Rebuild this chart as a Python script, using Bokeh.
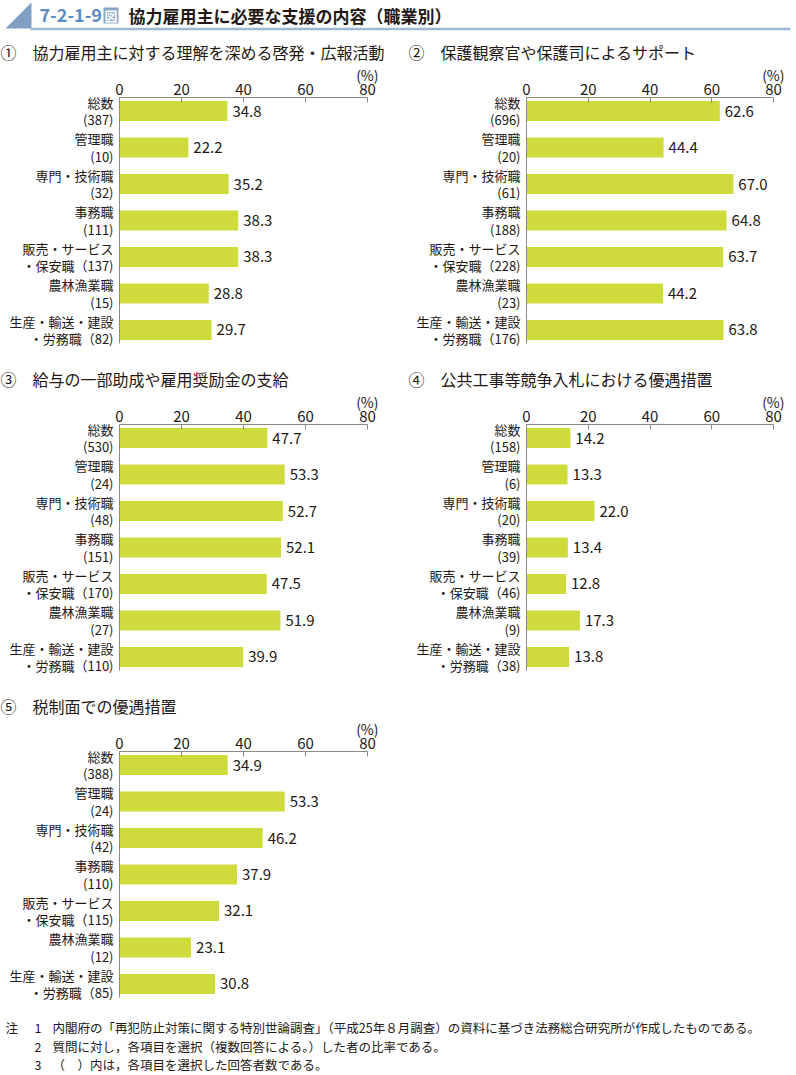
from bokeh.plotting import figure
from bokeh.layouts import column, row
from bokeh.models import FactorRange, Range1d, FixedTicker, ColumnDataSource, Title
from bokeh.embed import file_html
from bokeh.resources import INLINE
from bokeh.core.properties import value

FONT = "Noto Sans CJK JP"
TXT = "#231815"
BAR = "#cedb3a"
AXC = "#8a8a8a"

# ---------------- data ----------------
fig_no = "7-2-1-9"
fig_title = "協力雇用主に必要な支援の内容（職業別）"

occ_line1 = ["総数", "管理職", "専門・技術職", "事務職", "販売・サービス", "農林漁業職", "生産・輸送・建設"]
occ_line2 = ["", "", "", "", "・保安職", "", "・労務職"]

panel_titles = [
    "①　協力雇用主に対する理解を深める啓発・広報活動",
    "②　保護観察官や保護司によるサポート",
    "③　給与の一部助成や雇用奨励金の支給",
    "④　公共工事等競争入札における優遇措置",
    "⑤　税制面での優遇措置",
]

counts_1 = [387, 10, 32, 111, 137, 15, 82]
values_1 = [34.8, 22.2, 35.2, 38.3, 38.3, 28.8, 29.7]
counts_2 = [696, 20, 61, 188, 228, 23, 176]
values_2 = [62.6, 44.4, 67.0, 64.8, 63.7, 44.2, 63.8]
counts_3 = [530, 24, 48, 151, 170, 27, 110]
values_3 = [47.7, 53.3, 52.7, 52.1, 47.5, 51.9, 39.9]
counts_4 = [158, 6, 20, 39, 46, 9, 38]
values_4 = [14.2, 13.3, 22.0, 13.4, 12.8, 17.3, 13.8]
counts_5 = [388, 24, 42, 110, 115, 12, 85]
values_5 = [34.9, 53.3, 46.2, 37.9, 32.1, 23.1, 30.8]

x_ticks = [0, 20, 40, 60, 80]
unit_label = "(%)"

notes = [
    ("注", "1", "内閣府の「再犯防止対策に関する特別世論調査」（平成25年８月調査）の資料に基づき法務総合研究所が作成したものである。"),
    ("", "2", "質問に対し，各項目を選択（複数回答による。）した者の比率である。"),
    ("", "3", "（　）内は，各項目を選択した回答者数である。"),
]


def make_labels(counts):
    out = []
    for l1, l2, n in zip(occ_line1, occ_line2, counts):
        if l2:
            out.append(f"{l1}\n{l2}（{n})")
        else:
            out.append(f"{l1}\n({n})")
    return out


def panel(title, counts, vals, left_side, height, top, bottom):
    labels = make_labels(counts)
    w = 400 if left_side else 396
    bl = 119 if left_side else 126
    br = 33 if left_side else 23
    yr = FactorRange(factors=labels[::-1], range_padding=-0.13, range_padding_units="absolute")
    p = figure(width=w, height=height, y_range=yr, x_range=Range1d(0, 80),
               x_axis_location="above", output_backend="svg", toolbar_location=None,
               min_border_left=bl, min_border_right=br, min_border_top=top,
               min_border_bottom=bottom)
    src = ColumnDataSource(dict(y=labels, v=vals, t=[f"{v:.1f}" for v in vals]))
    p.hbar(y="y", right="v", left=0, height=0.55, source=src,
           fill_color=BAR, line_color=None)
    p.text(x="v", y="y", text="t", source=src, x_offset=5,
           text_align="left", text_baseline="middle",
           text_font=value(FONT), text_font_size="15px", text_color=TXT)

    xa = p.xaxis[0]
    xa.ticker = FixedTicker(ticks=x_ticks)
    xa.major_tick_in = 5
    xa.major_tick_out = 0
    xa.minor_tick_line_color = None
    xa.axis_line_color = AXC
    xa.major_tick_line_color = AXC
    xa.major_label_text_font = FONT
    xa.major_label_text_font_size = "15px"
    xa.major_label_text_color = TXT
    xa.major_label_standoff = 3

    ya = p.yaxis[0]
    ya.major_tick_in = 0
    ya.major_tick_out = 0
    ya.minor_tick_line_color = None
    ya.axis_line_color = AXC
    ya.major_label_text_font = FONT
    ya.major_label_text_font_size = "13px"
    ya.major_label_text_color = TXT
    ya.major_label_text_line_height = 0.92
    ya.major_label_standoff = 6

    p.xgrid.visible = False
    p.ygrid.visible = False
    p.outline_line_color = None

    # unit label, right-aligned over the 80 tick (stacked just above the axis)
    p.add_layout(Title(text=unit_label, align="right", offset=-11, standoff=-8,
                       text_font=FONT, text_font_size="14px", text_font_style="normal",
                       text_color=TXT), "above")

    p.title.text = title
    p.title.text_font = FONT
    p.title.text_font_size = "16px"
    p.title.text_font_style = "normal"
    p.title.text_color = TXT
    p.title.align = "left"
    p.title.offset = -bl if left_side else -(bl - 8)
    p.title.standoff = 6
    return p


# ---------------- header ----------------
hdr = figure(width=796, height=33, x_range=Range1d(0, 796), y_range=Range1d(33, 0),
             output_backend="svg", toolbar_location=None, min_border=0,
             x_axis_location=None, y_axis_location=None)
hdr.grid.visible = False
hdr.outline_line_color = None
hdr.patch([5, 31, 31], [28, 28, 2], fill_color="#7f9fc4", line_color=None)
hdr.segment(x0=[30], y0=[28.5], x1=[790], y1=[28.5], line_color="#9db8d0", line_width=2.5)
hdr.text(x=[39], y=[14.5], text=[fig_no], text_align="left", text_baseline="middle",
         text_font=value(FONT), text_font_size="18px", text_font_style="bold", text_color="#5b8cc3")
hdr.rect(x=[110.5], y=[15], width=15, height=16, fill_color="#86a6c8", line_color=None)
hdr.text(x=[110.5], y=[15], text=["図"], text_align="center", text_baseline="middle",
         text_font=value(FONT), text_font_size="13px", text_font_style="bold", text_color="white")
hdr.text(x=[128], y=[14.5], text=[fig_title], text_align="left", text_baseline="middle",
         text_font=value(FONT), text_font_size="17px", text_font_style="bold", text_color=TXT)

# ---------------- panels ----------------
p1 = panel(panel_titles[0], counts_1, values_1, True, 327, 64, 17)
p2 = panel(panel_titles[1], counts_2, values_2, False, 327, 64, 17)
p3 = panel(panel_titles[2], counts_3, values_3, True, 327, 64, 17)
p4 = panel(panel_titles[3], counts_4, values_4, False, 327, 64, 17)
p5 = panel(panel_titles[4], counts_5, values_5, True, 321, 64, 11)

# ---------------- footer ----------------
ftr = figure(width=796, height=65, x_range=Range1d(0, 796), y_range=Range1d(65, 0),
             output_backend="svg", toolbar_location=None, min_border=0,
             x_axis_location=None, y_axis_location=None)
ftr.grid.visible = False
ftr.outline_line_color = None
ny = [19, 38, 56]
for (a, b, c), yy in zip(notes, ny):
    if a:
        ftr.text(x=[5], y=[yy], text=[a], text_baseline="middle", text_font=value(FONT),
                 text_font_size="12.5px", text_color=TXT)
    ftr.text(x=[34], y=[yy], text=[b], text_baseline="middle", text_font=value(FONT),
             text_font_size="12.5px", text_color=TXT)
    ftr.text(x=[52], y=[yy], text=[c], text_baseline="middle", text_font=value(FONT),
             text_font_size="12.5px", text_color=TXT)

layout = column(hdr, row(p1, p2), row(p3, p4), row(p5), ftr)
open("out.html", "w").write(file_html(layout, INLINE))
